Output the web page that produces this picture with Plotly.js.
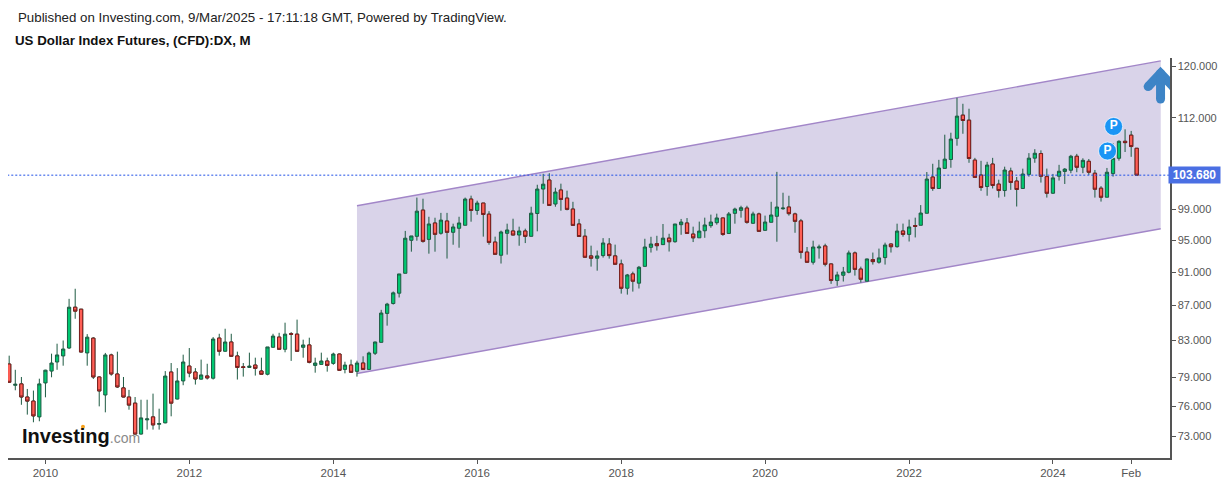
<!DOCTYPE html>
<html><head><meta charset="utf-8">
<script src="https://cdn.plot.ly/plotly-3.0.1.min.js"></script>
<style>html,body{margin:0;padding:0;background:#fff}#c{width:1228px;height:482px}</style>
</head><body><div id="c"></div>
<script>
const months=["2009-07","2009-08","2009-09","2009-10","2009-11","2009-12",
"2010-01","2010-02","2010-03","2010-04","2010-05","2010-06","2010-07","2010-08","2010-09","2010-10","2010-11","2010-12",
"2011-01","2011-02","2011-03","2011-04","2011-05","2011-06","2011-07","2011-08","2011-09","2011-10","2011-11","2011-12",
"2012-01","2012-02","2012-03","2012-04","2012-05","2012-06","2012-07","2012-08","2012-09","2012-10","2012-11","2012-12",
"2013-01","2013-02","2013-03","2013-04","2013-05","2013-06","2013-07","2013-08","2013-09","2013-10","2013-11","2013-12",
"2014-01","2014-02","2014-03","2014-04","2014-05","2014-06","2014-07","2014-08","2014-09","2014-10","2014-11","2014-12",
"2015-01","2015-02","2015-03","2015-04","2015-05","2015-06","2015-07","2015-08","2015-09","2015-10","2015-11","2015-12",
"2016-01","2016-02","2016-03","2016-04","2016-05","2016-06","2016-07","2016-08","2016-09","2016-10","2016-11","2016-12",
"2017-01","2017-02","2017-03","2017-04","2017-05","2017-06","2017-07","2017-08","2017-09","2017-10","2017-11","2017-12",
"2018-01","2018-02","2018-03","2018-04","2018-05","2018-06","2018-07","2018-08","2018-09","2018-10","2018-11","2018-12",
"2019-01","2019-02","2019-03","2019-04","2019-05","2019-06","2019-07","2019-08","2019-09","2019-10","2019-11","2019-12",
"2020-01","2020-02","2020-03","2020-04","2020-05","2020-06","2020-07","2020-08","2020-09","2020-10","2020-11","2020-12",
"2021-01","2021-02","2021-03","2021-04","2021-05","2021-06","2021-07","2021-08","2021-09","2021-10","2021-11","2021-12",
"2022-01","2022-02","2022-03","2022-04","2022-05","2022-06","2022-07","2022-08","2022-09","2022-10","2022-11","2022-12",
"2023-01","2023-02","2023-03","2023-04","2023-05","2023-06","2023-07","2023-08","2023-09","2023-10","2023-11","2023-12",
"2024-01","2024-02","2024-03","2024-04","2024-05","2024-06","2024-07","2024-08","2024-09","2024-10","2024-11","2024-12",
"2025-01","2025-02","2025-03"];
const opens=[80.42,78.15,78.30,76.93,76.51,74.90,
78.40,79.66,80.64,81.30,82.17,86.81,86.58,81.63,83.27,79.03,77.14,81.41,
79.35,77.88,76.93,76.30,73.19,74.60,74.90,74.16,74.30,79.56,76.72,78.61,
80.20,79.56,78.80,79.14,78.90,83.28,81.81,82.84,81.30,80.12,80.05,80.31,
79.67,79.32,82.25,83.39,82.03,83.76,83.72,82.25,82.51,80.27,80.38,80.75,
80.49,81.51,79.84,80.31,79.63,80.53,79.84,81.59,82.80,86.09,87.24,88.46,
90.86,94.98,95.49,98.92,95.10,97.22,95.88,97.48,96.01,96.53,96.92,100.40,
98.87,99.86,98.38,94.76,93.09,95.88,96.18,95.66,96.18,95.49,98.47,101.76,
103.00,99.73,101.63,100.53,99.06,97.09,95.51,93.01,92.72,93.05,94.51,93.01,
92.01,89.05,90.78,89.66,91.71,94.09,94.55,94.43,95.26,94.80,97.00,97.22,
95.78,95.30,96.21,96.87,97.26,97.88,95.86,98.49,98.89,99.19,97.18,98.41,
96.26,97.31,98.10,99.10,99.33,98.41,97.49,93.49,92.22,94.01,94.26,92.01,
89.98,90.62,90.98,93.38,91.38,89.90,92.55,92.22,92.80,94.51,94.17,96.18,
95.74,96.88,96.92,98.50,103.42,101.84,104.63,105.89,108.94,112.40,111.64,105.80,
103.70,102.11,105.24,102.44,101.56,104.26,102.86,101.84,103.79,106.08,106.74,103.48,
101.19,103.53,104.20,104.37,106.35,104.79,105.63,103.95,101.88,100.65,103.90,106.06,
108.51,109.41,107.50];
const highs=[81.33,79.80,79.03,77.77,77.60,78.85,
79.80,81.55,82.65,83.01,87.79,88.99,86.58,83.72,83.38,79.10,81.63,81.55,
81.77,79.03,77.67,76.93,76.65,76.65,77.28,75.73,79.66,80.53,79.98,81.44,
82.17,79.98,80.90,80.45,83.39,83.76,84.33,83.76,81.77,80.53,81.66,81.11,
81.11,82.29,83.76,83.87,85.02,83.95,85.37,83.10,83.32,81.11,81.66,81.11,
81.66,81.55,80.67,80.90,80.78,81.26,81.77,82.88,86.50,87.32,88.66,90.78,
96.19,95.54,100.60,100.45,98.04,97.91,98.55,98.55,97.13,98.04,100.60,100.86,
100.18,99.86,98.78,95.45,96.23,97.13,97.78,96.74,96.48,99.37,102.35,103.87,
103.95,101.94,102.50,101.54,100.03,97.75,96.43,94.30,93.68,95.26,95.26,94.43,
92.55,90.78,91.06,91.76,95.18,95.43,95.56,97.09,95.82,97.09,97.75,97.87,
96.74,97.40,97.92,98.32,98.45,97.88,98.67,99.24,99.50,99.50,98.71,98.58,
98.19,100.03,104.14,101.26,100.85,98.58,97.75,94.13,94.93,94.43,94.55,92.05,
91.06,91.64,93.68,93.56,91.68,92.67,93.43,93.93,94.68,94.55,97.13,97.14,
97.66,97.92,99.59,104.12,105.28,105.84,109.48,109.77,115.05,114.13,113.37,106.12,
105.70,105.56,106.12,103.05,104.87,104.73,103.42,104.59,106.80,107.37,107.20,104.60,
103.85,105.13,104.67,106.55,106.69,106.06,105.96,104.41,102.16,104.69,108.22,108.66,
110.28,110.04,107.50];
const lows=[78.40,77.63,76.13,75.13,74.36,74.46,
76.90,79.00,79.80,80.24,82.06,85.47,81.70,80.24,78.82,75.97,75.36,79.17,
77.88,76.90,75.63,73.16,73.13,73.63,73.63,73.63,74.26,74.96,76.68,78.16,
79.00,78.23,78.76,78.76,78.76,81.33,81.77,81.19,78.76,79.07,80.02,79.18,
79.32,79.21,82.21,82.00,81.70,80.76,81.81,81.11,80.49,79.49,80.38,79.60,
80.34,79.74,79.42,79.53,79.07,79.84,79.84,81.40,82.80,84.68,87.12,87.95,
90.86,93.54,94.93,94.68,93.29,93.54,95.71,92.68,94.42,94.04,96.92,97.39,
98.30,95.45,94.42,93.21,92.06,93.17,95.66,94.29,94.63,95.49,96.14,99.77,
99.50,99.37,98.84,98.89,96.91,95.47,92.80,91.68,91.18,92.80,92.67,91.97,
88.41,88.29,88.65,89.02,91.71,93.43,93.68,94.43,93.56,94.68,95.69,95.86,
94.76,95.30,95.30,96.60,97.00,95.56,95.86,97.13,97.92,97.13,97.13,96.13,
96.22,97.31,94.80,98.97,98.19,95.95,92.67,92.22,91.93,92.67,91.71,89.58,
89.34,89.86,90.86,90.58,89.74,89.90,91.93,92.05,91.93,93.43,94.05,95.44,
94.83,95.35,96.92,98.50,101.52,101.84,104.63,104.72,107.87,109.62,105.42,103.37,
101.52,100.85,101.84,100.60,100.72,101.65,99.40,101.84,103.47,105.42,102.65,100.60,
101.10,102.93,102.46,103.95,104.09,103.95,103.72,100.60,100.06,100.65,103.48,105.73,
106.96,106.27,103.68];
const closes=[78.47,78.26,76.93,76.51,75.00,78.30,
79.76,80.53,81.41,82.06,86.81,86.35,81.73,83.38,79.03,77.56,81.41,79.35,
77.98,76.93,76.10,73.19,74.80,74.70,74.10,74.23,79.13,76.30,78.61,80.64,
79.45,78.82,79.25,78.93,83.17,81.81,82.84,81.26,80.05,80.05,80.20,79.95,
79.32,82.29,83.50,82.03,83.72,83.72,81.81,82.51,80.60,80.53,80.75,80.27,
81.51,79.74,80.31,79.53,80.53,79.84,81.62,82.84,86.13,87.17,88.50,90.78,
95.25,95.54,98.78,94.85,97.09,95.75,97.60,96.01,96.70,97.22,100.40,98.87,
99.86,98.34,94.72,93.21,96.05,96.31,95.66,96.18,95.49,98.51,101.76,102.43,
99.54,101.35,100.35,99.02,96.91,95.47,92.84,92.72,93.01,94.64,93.05,91.97,
89.05,90.66,89.90,91.60,94.13,94.51,94.30,95.26,94.80,97.09,97.35,95.86,
95.30,96.17,96.96,97.35,97.88,95.73,98.41,99.06,99.24,97.31,98.41,96.13,
97.35,98.27,99.33,99.19,98.45,97.44,93.45,92.22,94.13,94.13,91.97,89.98,
90.66,91.02,93.38,91.34,90.14,92.63,92.30,92.76,94.38,94.17,96.17,95.74,
96.70,96.79,98.53,103.14,101.84,104.68,105.94,108.84,112.25,111.59,106.03,103.37,
101.97,105.10,102.25,101.56,104.40,102.67,101.70,103.84,106.08,106.78,103.53,101.19,
103.30,104.23,104.53,106.35,104.79,105.77,104.09,101.74,100.65,104.09,106.06,108.51,
108.32,107.75,103.68];

const xTickVals=["2010-01-01","2012-01-01","2014-01-01","2016-01-01","2018-01-01","2020-01-01","2022-01-01","2024-01-01","2025-02-01"];
const xTickText=["2010","2012","2014","2016","2018","2020","2022","2024","Feb"];
const yTickVals=[73,76,79,83,87,91,95,99,112,120];
const yTickText=["73.000","76.000","79.000","83.000","87.000","91.000","95.000","99.000","112.000","120.000"];

const channelX=["2014-05-01","2025-07-01"];
const channelTop=[99.5,120.9];
const channelBottom=[79.4,96.47];

const lastPrice=103.68;
const lastPriceX=["2009-06-01","2025-09-01"];
const pivotX=["2024-11-04","2024-10-04"];
const pivotY=[110.7,107.1];
const arrowX=["2025-04-28","2025-06-30","2025-09-02",null,"2025-06-30","2025-06-30"];
const arrowY=[116.8,118.9,116.8,null,118.0,114.85];

const downIdx=months.map((m,i)=>closes[i]<opens[i]?i:-1).filter(i=>i>=0);
const WICK="#1d5a42",GREEN="#00c871",RED="#ff5f55",DARKRED="#7c1d1d",PURPLE="#a286c8";
const AXIS="#555555",FONT="Liberation Sans, Arial, sans-serif";

const traces=[
 {type:"candlestick",x:months,open:opens,high:highs,low:lows,close:closes,whiskerwidth:0,
  increasing:{line:{color:WICK,width:1},fillcolor:GREEN},
  decreasing:{line:{color:WICK,width:1},fillcolor:RED},hoverinfo:"skip",showlegend:false},
 {type:"candlestick",x:downIdx.map(i=>months[i]),open:downIdx.map(i=>opens[i]),high:downIdx.map(i=>opens[i]),
  low:downIdx.map(i=>closes[i]),close:downIdx.map(i=>closes[i]),whiskerwidth:0,
  increasing:{line:{color:DARKRED,width:1},fillcolor:RED},
  decreasing:{line:{color:DARKRED,width:1},fillcolor:RED},hoverinfo:"skip",showlegend:false},
 {type:"scatter",mode:"lines",x:lastPriceX,y:[lastPrice,lastPrice],line:{color:"#1f4fe6",width:1,dash:"2px,2px"},hoverinfo:"skip",showlegend:false},
 {type:"scatter",mode:"lines+markers",x:arrowX,y:arrowY,connectgaps:false,line:{color:"#3d84c6",width:9},marker:{color:"#3d84c6",size:9},hoverinfo:"skip",showlegend:false},
 {type:"scatter",mode:"markers+text",x:pivotX,y:pivotY,text:["P","P"],textposition:"middle center",
  textfont:{family:FONT,size:12,color:"#ffffff",weight:"bold"},
  marker:{color:"#1a95f5",size:18,line:{color:"rgba(255,255,255,0.7)",width:1}},hoverinfo:"skip",showlegend:false}
];

const layout={
 width:1228,height:482,
 margin:{l:8,r:57.5,t:58,b:23.7,pad:0},
 paper_bgcolor:"#ffffff",plot_bgcolor:"#ffffff",showlegend:false,boxgap:0.16,
 font:{family:FONT,size:11,color:AXIS},
 title:{text:"<b>US Dollar Index Futures, (CFD):DX, M</b>",x:15/1228,xanchor:"left",xref:"container",y:1-40/482,yanchor:"middle",yref:"container",
  font:{family:FONT,size:13.3,color:"#111111"}},
 xaxis:{type:"date",range:["2009-06-25","2025-08-17"],tickmode:"array",tickvals:xTickVals,ticktext:xTickText,
  showgrid:false,zeroline:false,showline:true,linecolor:AXIS,linewidth:1.5,ticks:"outside",ticklen:4,tickwidth:1,tickcolor:AXIS,
  tickfont:{family:FONT,size:11.5,color:AXIS},rangeslider:{visible:false},fixedrange:true},
 yaxis:{type:"log",side:"right",range:[1.85047,2.08414],tickmode:"array",tickvals:yTickVals,ticktext:yTickText,
  showgrid:false,zeroline:false,showline:true,linecolor:AXIS,linewidth:1.5,ticks:"outside",ticklen:4,tickwidth:1,tickcolor:AXIS,
  tickfont:{family:FONT,size:11,color:AXIS},fixedrange:true},
 shapes:[
  {type:"path",xref:"x",yref:"y",layer:"below",fillcolor:"#d9d3e9",line:{width:0},
   path:`M ${channelX[0]} ${channelTop[0]} L ${channelX[1]} ${channelTop[1]} L ${channelX[1]} ${channelBottom[1]} L ${channelX[0]} ${channelBottom[0]} Z`},
  {type:"line",xref:"x",yref:"y",layer:"below",x0:channelX[0],x1:channelX[1],y0:channelTop[0],y1:channelTop[1],line:{color:PURPLE,width:1.4}},
  {type:"line",xref:"x",yref:"y",layer:"below",x0:channelX[0],x1:channelX[1],y0:channelBottom[0],y1:channelBottom[1],line:{color:PURPLE,width:1.4}},
  {type:"circle",xref:"paper",yref:"paper",layer:"above",fillcolor:"#f7a21b",line:{width:0},
   x0:(81-8)/1162.5,x1:(85-8)/1162.5,y0:(458.3-429)/400.3,y1:(458.3-425)/400.3}
 ],
 annotations:[
  {xref:"paper",yref:"paper",x:(16-8)/1162.5,y:1+(58-17)/400.3,xanchor:"left",yanchor:"middle",showarrow:false,
   text:"Published on Investing.com, 9/Mar/2025 - 17:11:18 GMT, Powered by TradingView.",font:{family:FONT,size:13.3,color:"#222222"}},
  {xref:"paper",yref:"y",x:(1195.5-8)/1162.5,y:Math.log10(lastPrice),xanchor:"center",yanchor:"middle",showarrow:false,
   width:51,height:16,bgcolor:"#4a6fe3",borderpad:0,text:"<b>103.680</b>",font:{family:FONT,size:12,color:"#ffffff"}},
  {xref:"paper",yref:"paper",x:(20-8)/1162.5,y:(458.3-436)/400.3,xanchor:"left",yanchor:"middle",showarrow:false,
   text:'<b><span style="font-size:20px;color:#111111">Investing</span></b><span style="font-size:14px;color:#8a8a8a">.com</span>',font:{family:FONT,size:14}}
 ]
};
Plotly.newPlot("c",traces,layout,{displayModeBar:false,staticPlot:true});
</script></body></html>
